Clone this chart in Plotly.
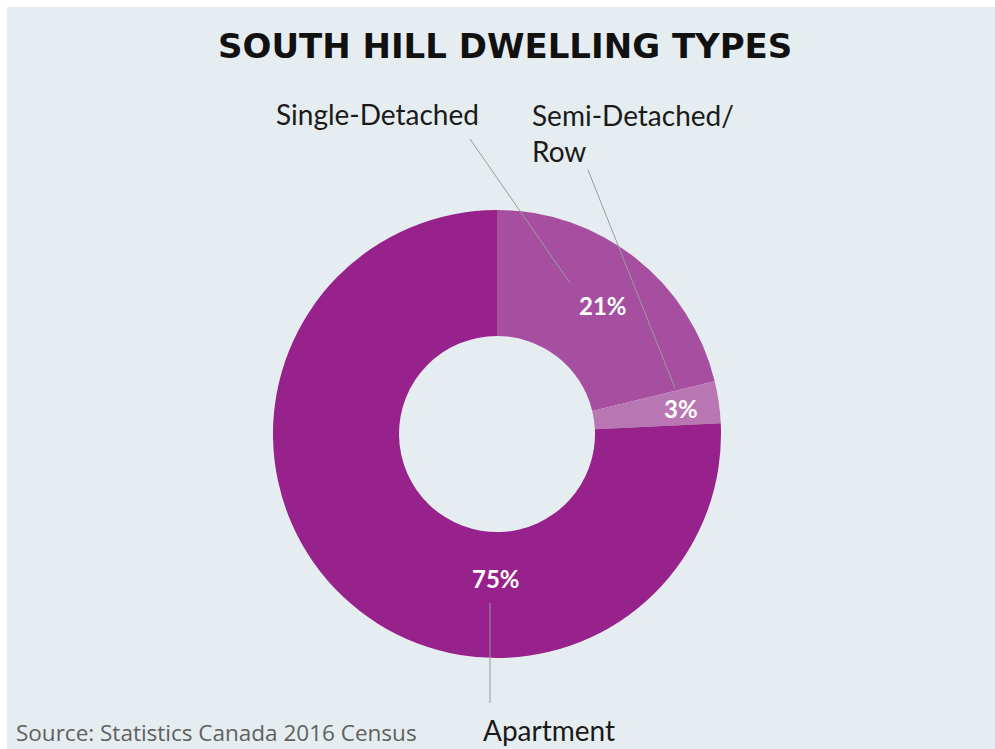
import plotly.graph_objects as go

W, H = 995, 749

categories = ["Single-Detached", "Semi-Detached/<br>Row", "Apartment"]
values = [21, 3, 75]
pct_labels = ["21%", "3%", "75%"]
colors = ["#a64fa0", "#b877b2", "#98228c"]

# pie geometry (pixels)
cx, cy, R = 497, 434, 224
hole = 0.4375


def px(x, y):
    return x / W, 1 - y / H


fig = go.Figure()
fig.add_trace(go.Pie(
    labels=categories, values=values, sort=False, direction="clockwise", rotation=0,
    hole=hole, marker=dict(colors=colors, line=dict(width=0)),
    textinfo="none", hoverinfo="label+percent", showlegend=False,
    domain=dict(x=[(cx - R) / W, (cx + R) / W], y=[(H - cy - R) / H, (H - cy + R) / H]),
))

shapes = []
x0, y0 = px(7, 7)
shapes.append(dict(type="rect", xref="paper", yref="paper", x0=x0, y0=0, x1=1, y1=y0,
                   fillcolor="#e6edf0", line=dict(width=0), layer="below"))

leaders = [((470, 139), (570, 283)), ((588, 170), (675, 388)), ((490, 603), (490, 703))]
for (a, b) in leaders:
    xa, ya = px(*a)
    xb, yb = px(*b)
    shapes.append(dict(type="line", xref="paper", yref="paper", x0=xa, y0=ya, x1=xb, y1=yb,
                       line=dict(color="#9a9a9a", width=1), layer="above"))

annotations = []
tx, ty = px(505, 46)
annotations.append(dict(text="<b>SOUTH HILL DWELLING TYPES</b>", x=tx, y=ty, xref="paper", yref="paper",
                        showarrow=False, xanchor="center", yanchor="middle",
                        font=dict(family="DejaVu Sans", size=34, color="#111111")))

label_pos = [((274, 114), "left", "middle"), ((530, 133), "left", "middle"), ((549, 730), "center", "middle")]
for cat, (pos, xa, ya) in zip(categories, label_pos):
    lx, ly = px(*pos)
    annotations.append(dict(text=cat, x=lx, y=ly, xref="paper", yref="paper", showarrow=False,
                            xanchor=xa, yanchor=ya, align="left",
                            font=dict(family="Lato", size=28, color="#1a1a1a")))

pct_pos = [(603, 305), (681, 408), (496, 578)]
for t, pos in zip(pct_labels, pct_pos):
    lx, ly = px(*pos)
    annotations.append(dict(text=f"<b>{t}</b>", x=lx, y=ly, xref="paper", yref="paper", showarrow=False,
                            xanchor="center", yanchor="middle",
                            font=dict(family="Lato", size=24, color="#ffffff")))

sx, sy = px(14, 732)
annotations.append(dict(text="Source: Statistics Canada 2016 Census", x=sx, y=sy, xref="paper", yref="paper",
                        showarrow=False, xanchor="left", yanchor="middle",
                        font=dict(family="Open Sans", size=22.5, color="#606060")))

fig.update_layout(width=W, height=H, margin=dict(l=0, r=0, t=0, b=0),
                  paper_bgcolor="#ffffff", plot_bgcolor="#ffffff",
                  shapes=shapes, annotations=annotations)

fig.write_html("out.html")
